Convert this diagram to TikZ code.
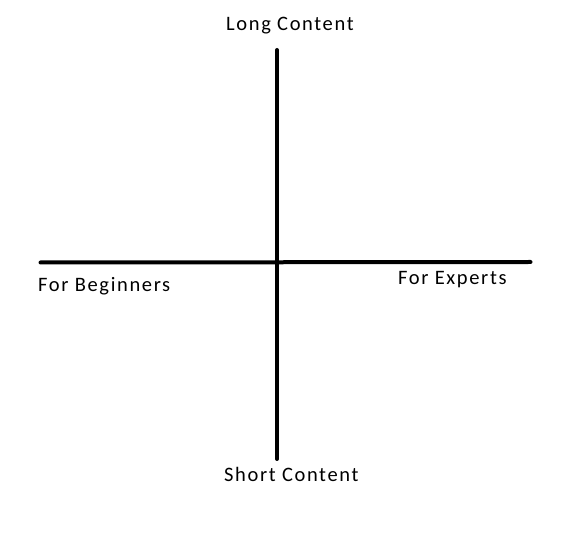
\documentclass[tikz,border=0pt]{standalone}
\usepackage{fontspec}
\setmainfont{Carlito}[LetterSpace=8]
\begin{document}
\begin{tikzpicture}[x=1pt,y=1pt,
  axis/.style={line width=4pt,line cap=round},
  lbl/.style={inner sep=0pt,anchor=base west,font=\fontsize{20.5}{24}\selectfont}]
\useasboundingbox (0,0) rectangle (568,544);
\coordinate (top) at (277,494);
\coordinate (bot) at (277,85);
\coordinate (lft) at (40.5,281.5);
\coordinate (rgt) at (530.5,282);
\draw[axis] (top) -- (bot);
\draw[axis] (lft) -- (rgt);
\node[lbl] (long) at (226,513) {Long Content};
\node[lbl] (beg) at (38,252.3) {For Beginners};
\node[lbl] (exp) at (398,259) {For Experts};
\node[lbl] (short) at (224,62.3) {Short Content};
\end{tikzpicture}
\end{document}
